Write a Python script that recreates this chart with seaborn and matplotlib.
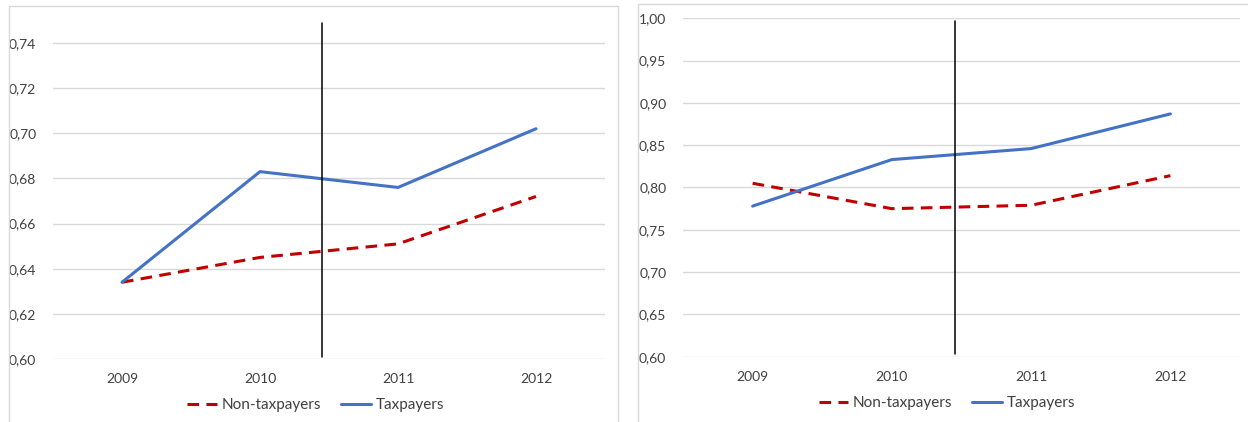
import matplotlib
matplotlib.use("Agg")
import matplotlib.pyplot as plt
from matplotlib.patches import Rectangle
from matplotlib.ticker import FuncFormatter
import pandas as pd
import seaborn as sns

# Data
years = [2009, 2010, 2011, 2012]
groups = ["Non-taxpayers", "Taxpayers"]

left_non_tax = [0.634, 0.645, 0.651, 0.672]
left_tax = [0.634, 0.683, 0.676, 0.702]

right_non_tax = [0.805, 0.775, 0.779, 0.814]
right_tax = [0.778, 0.833, 0.846, 0.887]

left_yticks = [0.60, 0.62, 0.64, 0.66, 0.68, 0.70, 0.72, 0.74]
right_yticks = [0.60, 0.65, 0.70, 0.75, 0.80, 0.85, 0.90, 0.95, 1.00]

break_year = 2010.45

sns.set_style("white")
plt.rcParams["font.family"] = ["Lato", "DejaVu Sans"]

W, H = 1248, 422
fig = plt.figure(figsize=(W / 100, H / 100), dpi=100)

colors = {"Non-taxpayers": "#C00000", "Taxpayers": "#4472C4"}
dashes = {"Non-taxpayers": (3.8, 2.4), "Taxpayers": ""}


def px_axes(x0, x1, ytop, ybot):
    return fig.add_axes([x0 / W, (H - ybot) / H, (x1 - x0) / W, (ybot - ytop) / H])


def make_df(non_tax, tax):
    return pd.DataFrame({
        "year": years * 2,
        "value": non_tax + tax,
        "group": [groups[0]] * 4 + [groups[1]] * 4,
    })


def draw_panel(ax, df, ylim, yticks, vline_frac, legend_xy):
    sns.lineplot(data=df, x="year", y="value", hue="group", style="group",
                 hue_order=groups, style_order=groups, palette=colors,
                 dashes=dashes, linewidth=2.2, legend=False, ax=ax)
    ax.set_xlim(2008.5, 2012.5)
    ax.set_ylim(*ylim)
    ax.set_xticks(years)
    ax.set_xticklabels([str(y) for y in years])
    ax.set_yticks(yticks)
    ax.yaxis.set_major_formatter(FuncFormatter(lambda v, p: f"{v:.2f}".replace(".", ",")))
    ax.grid(axis="y", color="#d9d9d9", linewidth=1)
    ax.set_axisbelow(True)
    for s in ax.spines.values():
        s.set_visible(False)
    ax.tick_params(axis="y", length=0, pad=12, labelsize=10, labelcolor="#404040")
    ax.tick_params(axis="x", length=0, pad=10, labelsize=10, labelcolor="#404040")
    ax.set_xlabel("")
    ax.set_ylabel("")
    ax.axvline(break_year, ymin=vline_frac[0], ymax=vline_frac[1], color="black", linewidth=1.1)
    handles = ax.get_lines()[:2]
    fig.legend(handles, groups, loc="center", bbox_to_anchor=legend_xy, ncol=2,
               frameon=False, fontsize=11, handlelength=1.95, handletextpad=0.3,
               columnspacing=1.3, labelcolor="#404040")


# Left panel
axL = px_axes(53, 605, 20.4, 359)
draw_panel(axL, make_df(left_non_tax, left_tax), (0.60, 0.75), left_yticks,
           (0.006, 0.992), (315.5 / W, (H - 405.5) / H))

# Right panel
axR = px_axes(683, 1240, 18.3, 356.7)
draw_panel(axR, make_df(right_non_tax, right_tax), (0.60, 1.00), right_yticks,
           (0.008, 0.992), (947 / W, (H - 403) / H))

# Chart area borders
fig.patches.append(Rectangle((9 / W, -0.05), 609 / W, (H - 6) / H + 0.05,
                             transform=fig.transFigure, fill=False,
                             edgecolor="#d9d9d9", linewidth=1))
fig.patches.append(Rectangle((638 / W, -0.05), 0.5, (H - 4) / H + 0.05,
                             transform=fig.transFigure, fill=False,
                             edgecolor="#d9d9d9", linewidth=1))

fig.savefig("out.png", dpi=100)
